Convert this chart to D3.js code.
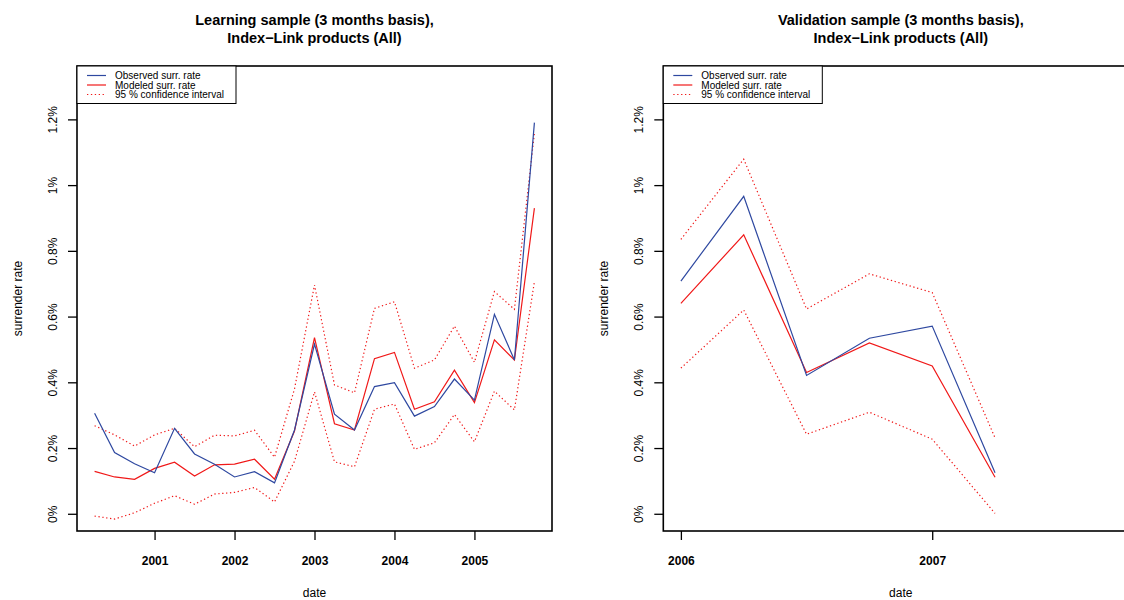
<!DOCTYPE html>
<html>
<head>
<meta charset="utf-8">
<script src="https://cdn.jsdelivr.net/npm/d3@7"></script>
<style>
  body { margin: 0; background: #fff; }
  svg { font-family: "Liberation Sans", Arial, Helvetica, sans-serif; }
</style>
</head>
<body>
<svg id="chart" width="1124" height="600"></svg>
<script>
// learning sample, quarterly, values in percent
var learnDates = [2000.25, 2000.5, 2000.75, 2001, 2001.25, 2001.5, 2001.75, 2002, 2002.25, 2002.5, 2002.75, 2003,
  2003.25, 2003.5, 2003.75, 2004, 2004.25, 2004.5, 2004.75, 2005, 2005.25, 2005.5, 2005.75];
var learnObserved = [0.306, 0.186, 0.152, 0.125, 0.260, 0.182, 0.151, 0.112, 0.128, 0.094, 0.255, 0.516,
  0.303, 0.255, 0.387, 0.399, 0.297, 0.326, 0.410, 0.346, 0.607, 0.468, 1.190];
var learnModeled = [0.129, 0.112, 0.105, 0.138, 0.157, 0.115, 0.149, 0.151, 0.166, 0.105, 0.252, 0.536,
  0.274, 0.255, 0.472, 0.491, 0.318, 0.341, 0.437, 0.338, 0.529, 0.468, 0.930];
var learnUpper = [0.268, 0.240, 0.206, 0.240, 0.260, 0.204, 0.239, 0.237, 0.254, 0.172, 0.380, 0.696,
  0.392, 0.368, 0.625, 0.645, 0.443, 0.468, 0.571, 0.461, 0.676, 0.622, 1.158];
var learnLower = [-0.007, -0.016, 0.003, 0.032, 0.055, 0.029, 0.060, 0.065, 0.080, 0.036, 0.160, 0.371,
  0.158, 0.143, 0.318, 0.334, 0.196, 0.216, 0.302, 0.219, 0.373, 0.316, 0.706];

// validation sample
var validDates = [2006, 2006.25, 2006.5, 2006.75, 2007, 2007.25];
var validObserved = [0.708, 0.966, 0.421, 0.534, 0.571, 0.125];
var validModeled = [0.640, 0.849, 0.430, 0.520, 0.450, 0.111];
var validUpper = [0.835, 1.079, 0.623, 0.730, 0.673, 0.231];
var validLower = [0.443, 0.620, 0.242, 0.309, 0.227, 0.001];

var learnYears = [2001, 2002, 2003, 2004, 2005];
var validYears = [2006, 2007];
var rateTicks = [0, 0.2, 0.4, 0.6, 0.8, 1.0, 1.2];
var rateLabels = ["0%", "0.2%", "0.4%", "0.6%", "0.8%", "1%", "1.2%"];
var legendLabels = ["Observed surr. rate", "Modeled surr. rate", "95 % confidence interval"];

var blue = "#2e48a0", red = "#f01818";

// R style 4% padding on each side
function rExpand(lo, hi) {
  var d = (hi - lo) * 0.04;
  return [lo - d, hi + d];
}

var svg = d3.select("#chart");

function drawPanel(opt) {
  var left = opt.left, top = 66, w = 475, h = 465;
  var x = d3.scaleLinear().domain(rExpand(opt.xlim[0], opt.xlim[1])).range([left, left + w]);
  var y = d3.scaleLinear().domain(rExpand(0, 1.31)).range([top + h, top]);
  var g = svg.append("g");

  // title
  var t = g.append("text").attr("text-anchor", "middle").style("font-weight", "bold").style("font-size", "14.5px");
  t.append("tspan").attr("x", left + w / 2).attr("y", 25).text(opt.title[0]);
  t.append("tspan").attr("x", left + w / 2).attr("y", 43).text(opt.title[1]);

  // series
  var series = [
    {vals: opt.upper, col: red, dash: "1.3,2.6"},
    {vals: opt.lower, col: red, dash: "1.3,2.6"},
    {vals: opt.modeled, col: red, dash: null},
    {vals: opt.observed, col: blue, dash: null}];
  var line = d3.line().x((d) => x(d[0])).y((d) => y(d[1]));
  g.selectAll("path.s").data(series).enter().append("path").attr("class", "s")
    .attr("d", (s) => line(opt.dates.map((dt, i) => [dt, s.vals[i]])))
    .style("fill", "none").style("stroke", (s) => s.col).style("stroke-width", 1.2)
    .style("stroke-dasharray", (s) => s.dash);

  // box
  g.append("rect").attr("x", left).attr("y", top).attr("width", w).attr("height", h)
    .style("fill", "none").style("stroke", "#000").style("stroke-width", 1.6);

  // x axis
  var xa = g.append("g").attr("transform", "translate(0," + (top + h) + ")")
    .call(d3.axisBottom(x).tickValues(opt.years).tickFormat(d3.format("d")).tickSize(9).tickPadding(16));
  xa.select(".domain").remove();
  xa.selectAll("line").style("stroke-width", 1.3);
  xa.selectAll("text").style("font-size", "12px").style("font-weight", "bold").attr("fill", "#000");

  // y axis
  var ya = g.append("g").attr("transform", "translate(" + left + ",0)")
    .call(d3.axisLeft(y).tickValues(rateTicks).tickFormat((d, i) => rateLabels[i]).tickSize(9));
  ya.select(".domain").remove();
  ya.selectAll("line").style("stroke-width", 1.3);
  ya.selectAll("text").attr("x", null).attr("dy", null).attr("text-anchor", "middle")
    .attr("transform", "translate(" + (-20.5) + ",0) rotate(-90)")
    .attr("y", 0).style("font-size", "12px").attr("fill", "#000");

  // axis titles
  g.append("text").attr("x", left + w / 2).attr("y", 597).attr("text-anchor", "middle")
    .style("font-size", "12px").text("date");
  g.append("text").attr("transform", "translate(" + (left - 55.5) + "," + (top + h / 2) + ") rotate(-90)")
    .attr("text-anchor", "middle").style("font-size", "12px").text("surrender rate");

  // legend
  var lg = g.append("g").attr("transform", "translate(" + left + "," + top + ")");
  lg.append("rect").attr("width", 159).attr("height", 37.5).style("fill", "#fff")
    .style("stroke", "#000").style("stroke-width", 1);
  var keys = [{col: blue, dash: null}, {col: red, dash: null}, {col: red, dash: "1.3,2.6"}];
  keys.forEach(function(k, i) {
    var yy = 9.5 + i * 9.5;
    lg.append("line").attr("x1", 10).attr("x2", 29).attr("y1", yy).attr("y2", yy)
      .style("stroke", k.col).style("stroke-width", 1.2).style("stroke-dasharray", k.dash);
    lg.append("text").attr("x", 38).attr("y", yy + 3.6).style("font-size", "10px").text(legendLabels[i]);
  });
}

drawPanel({left: 77, xlim: [2000.25, 2005.75], years: learnYears, dates: learnDates,
  observed: learnObserved, modeled: learnModeled, upper: learnUpper, lower: learnLower,
  title: ["Learning sample (3 months basis),", "Index\u2212Link products (All)"]});
drawPanel({left: 663.3, xlim: [2006, 2007.75], years: validYears, dates: validDates,
  observed: validObserved, modeled: validModeled, upper: validUpper, lower: validLower,
  title: ["Validation sample (3 months basis),", "Index\u2212Link products (All)"]});
</script>
</body>
</html>
